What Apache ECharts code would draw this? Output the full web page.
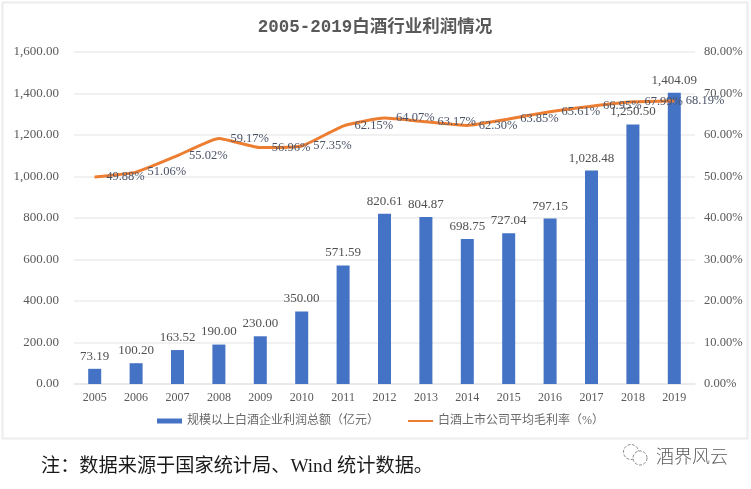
<!DOCTYPE html>
<html>
<head>
<meta charset="utf-8">
<style>html,body{margin:0;padding:0;background:#fff}#c{width:751px;height:489px}</style>
<script src="https://cdn.jsdelivr.net/npm/echarts@6/dist/echarts.min.js"></script>
</head>
<body>
<div id="c"></div>
<script>
const titleText = '2005-2019白酒行业利润情况';
const noteText = '注：数据来源于国家统计局、Wind 统计数据。';
const markText = '酒界风云';
const barName = '规模以上白酒企业利润总额（亿元）';
const lineName = '白酒上市公司平均毛利率（%）';
const years = ['2005','2006','2007','2008','2009','2010','2011','2012','2013','2014','2015','2016','2017','2018','2019'];
const profit = [73.19,100.20,163.52,190.00,230.00,350.00,571.59,820.61,804.87,698.75,727.04,797.15,1028.48,1250.50,1404.09];
const margin = [49.88,51.06,55.02,59.17,56.96,57.35,62.15,64.07,63.17,62.30,63.85,65.61,66.95,67.99,68.19];

const FONT = '"Liberation Serif","Noto Sans CJK SC",serif';
const TITLE_FONT = '"Liberation Mono","Noto Sans CJK SC",monospace';
const fmtAmount = v => v.toLocaleString('en-US',{minimumFractionDigits:2,maximumFractionDigits:2});
const fmtPct = v => v.toFixed(2) + '%';

const chart = echarts.init(document.getElementById('c'), null, {renderer:'canvas'});
chart.setOption({
  animation:false,
  backgroundColor:'#fff',
  textStyle:{fontFamily:FONT},
  title:{
    text:titleText,left:370,top:14,textAlign:'center',
    textStyle:{fontFamily:TITLE_FONT,fontSize:17.5,fontWeight:'bold',color:'#595959'}
  },
  legend:{
    left:152,top:410,itemWidth:25,itemHeight:5,itemGap:28,
    textStyle:{fontFamily:FONT,fontSize:12,color:'#6a6a6a'},
    data:[{name:barName,icon:'rect'},{name:lineName,itemStyle:{opacity:0}}]
  },
  grid:{left:74,right:56,top:52,height:332},
  xAxis:{
    type:'category',data:years,
    axisTick:{show:false},
    axisLine:{lineStyle:{color:'#e8e8e8',width:1.5}},
    axisLabel:{fontFamily:FONT,fontSize:12,color:'#595959',margin:8}
  },
  yAxis:[
    {type:'value',min:0,max:1600,interval:200,
     axisLine:{show:false},axisTick:{show:false},
     splitLine:{lineStyle:{color:'#ececec',width:1.5}},
     axisLabel:{fontFamily:FONT,fontSize:13,color:'#595959',margin:15,padding:[3,0,0,0],formatter:fmtAmount}},
    {type:'value',min:0,max:80,interval:10,
     axisLine:{show:false},axisTick:{show:false},splitLine:{show:false},
     axisLabel:{fontFamily:FONT,fontSize:12.5,color:'#595959',margin:9,padding:[3,0,0,0],formatter:fmtPct}}
  ],
  series:[
    {name:barName,type:'bar',data:profit,barWidth:13,
     itemStyle:{color:'#4472c4'},
     label:{show:true,position:'top',distance:6,fontFamily:FONT,fontSize:13,color:'#505050',
       formatter:p=>fmtAmount(p.value)}},
    {name:lineName,type:'line',yAxisIndex:1,data:margin,smooth:0.15,showSymbol:true,showAllSymbol:true,symbol:'circle',symbolSize:1,z:5,
     lineStyle:{color:'#ed7d31',width:3},itemStyle:{color:'#ed7d31'},
     labelLayout:{hideOverlap:false},
     label:{show:true,position:'right',distance:11,offset:[0,2],fontFamily:FONT,fontSize:12.5,color:'#4a5266',
       formatter:p=>fmtPct(p.value)}}
  ],
  graphic:[
    {type:'rect',silent:true,z:-1,shape:{x:2.5,y:2.5,width:745,height:436},
     style:{fill:'#fff',stroke:'#ececec',lineWidth:2}},
    {type:'text',left:41,top:457,silent:true,
     style:{text:noteText,fill:'#1a1a1a',fontSize:19.2,fontFamily:'"Liberation Serif","Noto Sans CJK SC",serif'}},
    {type:'text',left:656,top:447,silent:true,
     style:{text:markText,fill:'#5a5a5a',fontSize:18,fontWeight:300,fontFamily:'"Noto Sans CJK SC",sans-serif'}},
    {type:'circle',silent:true,shape:{cx:631,cy:452,r:7.5},style:{fill:'#fff',stroke:'#8a8a8a',lineWidth:1,lineDash:[3,1.5]}},
    {type:'circle',silent:true,shape:{cx:640,cy:458,r:7},style:{fill:'#fff',stroke:'#8a8a8a',lineWidth:1,lineDash:[3,1.5]}}
  ]
});
</script>
</body>
</html>
